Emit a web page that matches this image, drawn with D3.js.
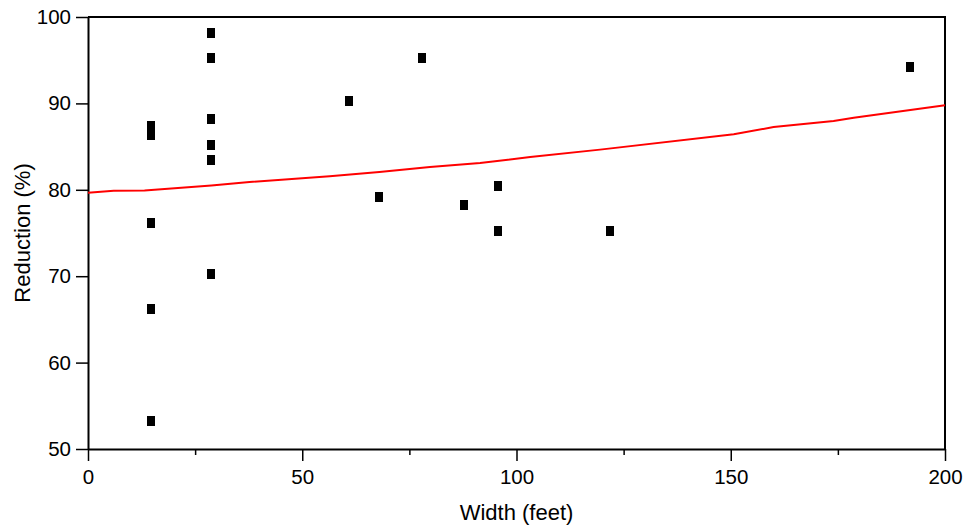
<!DOCTYPE html>
<html>
<head>
<meta charset="utf-8">
<script src="https://cdn.jsdelivr.net/npm/d3@7"></script>
<style>
body{margin:0;background:#fff;}
text{font-family:"Liberation Sans",Arial,sans-serif;fill:#000;}
</style>
</head>
<body>
<div id="chart"></div>
<script>
// measured points
var widthFt = [14.7,14.7,14.7,14.7,14.7, 28.8,28.8,28.8,28.8,28.8,28.8, 61,68,77.9,87.7,95.6,95.6,121.9,191.9];
var reductionPct = [87.35,86.4,76.2,66.2,53.2, 98.2,95.2,88.2,85.2,83.4,70.2, 90.3,79.2,95.2,78.2,80.4,75.2,75.25,94.2];

// fitted curve (red)
var fitX = [0,6,13.2,28.8,37.7,56.4,68,79.8,91.5,103.2,119.5,150.7,160,174,178.7,200];
var fitY = [79.67,79.9,79.93,80.5,80.9,81.56,82.05,82.63,83.1,83.79,84.65,86.42,87.26,87.96,88.35,89.78];

var xTicks = [0,50,100,150,200];
var xMinor = [25,75,125,175];
var yTicks = [50,60,70,80,90,100];

var width = 969,
    height = 529,
    plotL = 88, plotR = 945, plotT = 17, plotB = 449; // plot box edges

var svg = d3.select("#chart").append("svg")
    .attr("width", width)
    .attr("height", height);

var x = d3.scaleLinear().domain([0,200]).range([plotL,plotR]);
var y = d3.scaleLinear().domain([50,100]).range([plotB,plotT]);

// minor x ticks
svg.append("g")
    .attr("transform","translate(0,"+plotB+")")
    .call(d3.axisBottom(x).tickValues(xMinor).tickSize(6).tickSizeOuter(0).tickFormat(""))
    .call(function(g){
        g.select(".domain").remove();
        g.selectAll("line").attr("stroke","#000").attr("stroke-width",1.5);
    });

// x axis
svg.append("g")
    .attr("transform","translate(0,"+plotB+")")
    .call(d3.axisBottom(x).tickValues(xTicks).tickSize(12).tickSizeOuter(0).tickPadding(8))
    .call(function(g){
        g.select(".domain").attr("stroke","#000").attr("stroke-width",2);
        g.selectAll("line").attr("stroke","#000").attr("stroke-width",1.5);
        g.selectAll("text").attr("font-size","20.5px").attr("font-family",null);
    });

// y axis
svg.append("g")
    .attr("transform","translate("+plotL+",0)")
    .call(d3.axisLeft(y).tickValues(yTicks).tickSize(12).tickSizeOuter(0).tickPadding(5))
    .call(function(g){
        g.select(".domain").attr("stroke","#000").attr("stroke-width",2);
        g.selectAll("line").attr("stroke","#000").attr("stroke-width",1.5);
        g.selectAll("text").attr("font-size","20.5px").attr("font-family",null);
    });

// top + right frame
svg.append("path")
    .attr("d","M"+plotL+","+plotT+"H"+plotR+"V"+plotB)
    .attr("fill","none")
    .attr("stroke","#000")
    .attr("stroke-width",2);

// fit line
var line = d3.line()
    .x(function(d,i){return x(fitX[i]);})
    .y(function(d){return y(d);});

svg.append("path")
    .datum(fitY)
    .attr("d",line)
    .attr("fill","none")
    .attr("stroke","#ff0000")
    .attr("stroke-width",2);

// points
svg.selectAll(".pt")
    .data(reductionPct)
  .enter()
    .append("rect")
    .attr("class","pt")
    .attr("x",function(d,i){return Math.round(x(widthFt[i]))-4;})
    .attr("y",function(d){return Math.round(y(d))-5;})
    .attr("width",8)
    .attr("height",10)
    .attr("fill","#000");

// axis titles
svg.append("text")
    .attr("x",(plotL+plotR)/2)
    .attr("y",520)
    .attr("text-anchor","middle")
    .attr("font-size","22px")
    .text("Width (feet)");

svg.append("text")
    .attr("transform","translate(30,"+((plotT+plotB)/2)+") rotate(-90)")
    .attr("text-anchor","middle")
    .attr("font-size","22px")
    .text("Reduction (%)");
</script>
</body>
</html>
